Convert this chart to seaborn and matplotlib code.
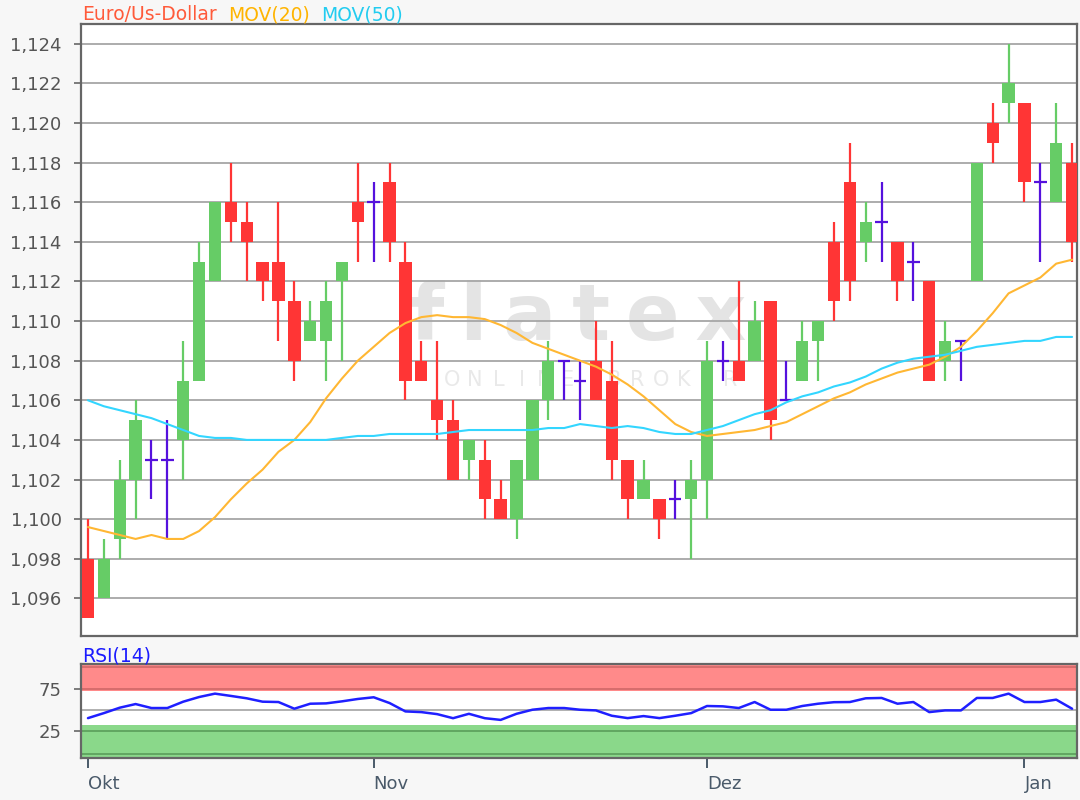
import numpy as np
import pandas as pd
import seaborn as sns
import matplotlib.pyplot as plt

# EUR/USD daily candles, Oct - early Jan
opens = [1.098, 1.096, 1.099, 1.102, 1.103, 1.103, 1.104, 1.107, 1.112, 1.116,
         1.115, 1.113, 1.113, 1.111, 1.109, 1.109, 1.112, 1.116, 1.116, 1.117,
         1.113, 1.108, 1.106, 1.105, 1.103, 1.103, 1.101, 1.100, 1.102, 1.106,
         1.108, 1.107, 1.108, 1.107, 1.103, 1.101, 1.101, 1.101, 1.101, 1.102,
         1.108, 1.108, 1.108, 1.111, 1.106, 1.107, 1.109, 1.114, 1.117, 1.114,
         1.115, 1.114, 1.113, 1.112, 1.108, 1.109, 1.112, 1.120, 1.121, 1.121,
         1.117, 1.116, 1.118]
highs = [1.100, 1.099, 1.103, 1.106, 1.104, 1.105, 1.109, 1.114, 1.116, 1.118,
         1.116, 1.113, 1.116, 1.112, 1.111, 1.112, 1.113, 1.118, 1.117, 1.118,
         1.114, 1.109, 1.109, 1.106, 1.104, 1.104, 1.102, 1.103, 1.106, 1.109,
         1.108, 1.108, 1.110, 1.109, 1.103, 1.103, 1.101, 1.102, 1.103, 1.109,
         1.109, 1.112, 1.111, 1.111, 1.108, 1.110, 1.110, 1.115, 1.119, 1.116,
         1.117, 1.114, 1.114, 1.112, 1.110, 1.109, 1.118, 1.121, 1.124, 1.121,
         1.118, 1.121, 1.119]
lows = [1.095, 1.096, 1.098, 1.100, 1.101, 1.099, 1.102, 1.107, 1.112, 1.114,
        1.112, 1.111, 1.109, 1.107, 1.109, 1.107, 1.108, 1.113, 1.113, 1.113,
        1.106, 1.107, 1.104, 1.102, 1.102, 1.100, 1.100, 1.099, 1.102, 1.105,
        1.106, 1.105, 1.106, 1.102, 1.100, 1.101, 1.099, 1.100, 1.098, 1.100,
        1.107, 1.107, 1.108, 1.104, 1.106, 1.107, 1.107, 1.110, 1.111, 1.113,
        1.113, 1.111, 1.111, 1.107, 1.107, 1.107, 1.112, 1.118, 1.120, 1.116,
        1.113, 1.116, 1.113]
closes = [1.095, 1.098, 1.102, 1.105, 1.103, 1.103, 1.107, 1.113, 1.116, 1.115,
          1.114, 1.112, 1.111, 1.108, 1.110, 1.111, 1.113, 1.115, 1.116, 1.114,
          1.107, 1.107, 1.105, 1.102, 1.104, 1.101, 1.100, 1.103, 1.106, 1.108,
          1.108, 1.107, 1.106, 1.103, 1.101, 1.102, 1.100, 1.101, 1.102, 1.108,
          1.108, 1.107, 1.110, 1.105, 1.106, 1.109, 1.110, 1.111, 1.112, 1.115,
          1.115, 1.112, 1.113, 1.107, 1.109, 1.109, 1.118, 1.119, 1.122, 1.117,
          1.117, 1.119, 1.114]

ma20 = [1.0996, 1.0994, 1.0992, 1.0990, 1.0992, 1.0990, 1.0990, 1.0994, 1.1001, 1.1010,
        1.1018, 1.1025, 1.1034, 1.1040, 1.1049, 1.1061, 1.1071, 1.1080, 1.1087, 1.1094,
        1.1099, 1.1102, 1.1103, 1.1102, 1.1102, 1.1101, 1.1098, 1.1094, 1.1089, 1.1086,
        1.1083, 1.1080, 1.1077, 1.1073, 1.1068, 1.1062, 1.1055, 1.1048, 1.1044, 1.1042,
        1.1043, 1.1044, 1.1045, 1.1047, 1.1049, 1.1053, 1.1057, 1.1061, 1.1064, 1.1068,
        1.1071, 1.1074, 1.1076, 1.1078, 1.1082, 1.1087, 1.1095, 1.1104, 1.1114, 1.1118,
        1.1122, 1.1129, 1.1131]
ma50 = [1.1060, 1.1057, 1.1055, 1.1053, 1.1051, 1.1048, 1.1045, 1.1042, 1.1041, 1.1041,
        1.1040, 1.1040, 1.1040, 1.1040, 1.1040, 1.1040, 1.1041, 1.1042, 1.1042, 1.1043,
        1.1043, 1.1043, 1.1043, 1.1044, 1.1045, 1.1045, 1.1045, 1.1045, 1.1045, 1.1046,
        1.1046, 1.1048, 1.1047, 1.1046, 1.1047, 1.1046, 1.1044, 1.1043, 1.1043, 1.1045,
        1.1047, 1.1050, 1.1053, 1.1055, 1.1059, 1.1062, 1.1064, 1.1067, 1.1069, 1.1072,
        1.1076, 1.1079, 1.1081, 1.1082, 1.1083, 1.1085, 1.1087, 1.1088, 1.1089, 1.1090,
        1.1090, 1.1092, 1.1092]
rsi = [40.1, 46.0, 52.4, 56.7, 52.0, 52.0, 59.5, 65.0, 69.0, 66.3,
       63.5, 59.5, 59.1, 51.2, 57.1, 57.5, 59.9, 62.7, 64.7, 57.9,
       48.0, 47.2, 44.8, 40.0, 45.2, 40.0, 38.0, 45.2, 50.0, 52.0,
       52.0, 50.0, 49.2, 42.9, 40.1, 42.5, 40.1, 42.9, 46.0, 54.4,
       54.0, 52.0, 59.1, 50.0, 50.0, 54.4, 57.1, 58.9, 59.1, 63.5,
       63.9, 57.1, 59.1, 47.2, 49.2, 49.2, 63.9, 63.9, 69.0, 59.1,
       59.1, 61.9, 51.2]

month_pos = [0, 18, 39, 59]
month_labels = ['Okt', 'Nov', 'Dez', 'Jan']
price_ticks = [1.096, 1.098, 1.100, 1.102, 1.104, 1.106, 1.108, 1.110,
               1.112, 1.114, 1.116, 1.118, 1.120, 1.122, 1.124]

df = pd.DataFrame({'o': opens, 'h': highs, 'l': lows, 'c': closes,
                   'ma20': ma20, 'ma50': ma50, 'rsi': rsi})
df['i'] = np.arange(len(df))

RED, GREEN, DOJI = '#ff3535', '#66cc66', '#5511dd'
df['col'] = np.where(df.c > df.o, GREEN, np.where(df.c < df.o, RED, DOJI))

sns.set_style('white')
plt.rcParams['font.family'] = ['DejaVu Sans']

W, H = 1080, 800
fig = plt.figure(figsize=(10.8, 8), dpi=100, facecolor='#f7f7f7')
ax = fig.add_axes([81 / W, 1 - 636 / H, 996 / W, 612 / H])
ax2 = fig.add_axes([81 / W, 1 - 758 / H, 996 / W, 94 / H])
xlim = (-0.44, 62.31)

# watermark
ax.text(578 / W, 1 - 340 / H, 'f\u2009l\u2009a\u2009t\u2009e\u2009x', transform=fig.transFigure,
        fontsize=57, fontweight='bold', color='#e4e4e4', ha='center', va='baseline', zorder=0.2)
for k, ch in enumerate('ONLINE BROKER'):
    ax.text((452 + 23.2 * k) / W, 1 - 386 / H, ch, transform=fig.transFigure,
            fontsize=15, color='#e9e9e9', ha='center', va='baseline', zorder=0.2)

# candles
ax.vlines(df.i, df.l, df.h, colors=df.col, lw=1.6, zorder=2)
body = df[df.c != df.o]
ax.bar(body.i, body.c - body.o, bottom=body.o, width=0.78, color=body.col,
       linewidth=0, zorder=3)
doji = df[df.c == df.o]
ax.hlines(doji.c, doji.i - 0.39, doji.i + 0.39, colors=DOJI, lw=1.6, zorder=3)

sns.lineplot(data=df, x='i', y='ma20', ax=ax, color='#ffb733', lw=1.5, zorder=4)
sns.lineplot(data=df, x='i', y='ma50', ax=ax, color='#33d6ff', lw=1.5, zorder=4)

ax.set_xlim(*xlim)
ax.set_ylim(1.0941, 1.1250)
ax.set_yticks(price_ticks)
ax.set_yticklabels([f'{v:.3f}'.replace('.', ',') for v in price_ticks])
ax.set_xticks([])
ax.yaxis.grid(True, color='#a6a6a6', lw=1.3)
ax.set_axisbelow(True)
ax.tick_params(axis='y', left=True, length=5, width=1.2, color='#666666',
               labelsize=13, labelcolor='#555555', pad=9)
ax.set_xlabel('')
ax.set_ylabel('')

# RSI panel
ax2.axhspan(72.5, 104, color='#ff8a8a', lw=0, zorder=0.1)
ax2.axhspan(-8, 32, color='#8ad88a', lw=0, zorder=0.1)
for yv in (75, 100):
    ax2.axhline(yv, color='#d06868', lw=1.2, zorder=0.3)
for yv in (25, -2):
    ax2.axhline(yv, color='#5a9e5a', lw=1.2, zorder=0.3)
ax2.axhline(50, color='#aaaaaa', lw=1.3, zorder=0.3)
sns.lineplot(data=df, x='i', y='rsi', ax=ax2, color='#1f1fff', lw=1.8, zorder=4)
ax2.set_xlim(*xlim)
ax2.set_ylim(-7, 104)
ax2.set_yticks([25, 75])
ax2.set_xticks(month_pos)
ax2.set_xticklabels(month_labels, ha='left')
ax2.tick_params(axis='y', left=True, length=5, width=1.2, color='#666666',
                labelsize=13, labelcolor='#555555', pad=9)
ax2.tick_params(axis='x', bottom=True, length=7, width=1.4, color='#4a5a6a',
                labelsize=13, labelcolor='#4a5a6a', pad=5)
ax2.set_xlabel('')
ax2.set_ylabel('')

for a in (ax, ax2):
    for s in a.spines.values():
        s.set_visible(True)
        s.set_color('#666666')
        s.set_linewidth(1.6)

# header texts
base = 1 - 20.5 / H
fig.text(82 / W, base, 'Euro/Us-Dollar', color='#ff5a3a', fontsize=13.5, va='baseline')
fig.text(228 / W, base, 'MOV(20)', color='#ffb400', fontsize=13.5, va='baseline')
fig.text(321 / W, base, 'MOV(50)', color='#22ccf0', fontsize=13.5, va='baseline')
fig.text(82 / W, 1 - 661 / H, 'RSI(14)', color='#1a1aff', fontsize=13.5, va='baseline')

fig.savefig('out.png', dpi=100, facecolor=fig.get_facecolor())
